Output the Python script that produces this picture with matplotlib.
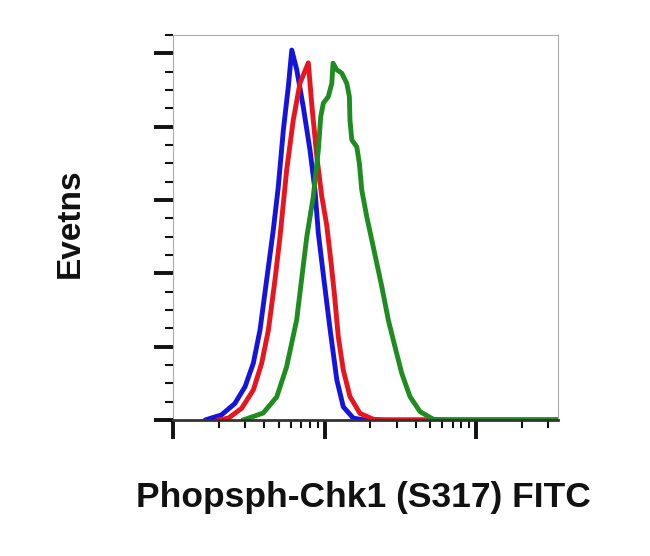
import numpy as np
import matplotlib
matplotlib.use("Agg")
import matplotlib.pyplot as plt
from matplotlib.ticker import LogLocator, MultipleLocator, NullFormatter

# FITC intensity (log axis) and % of max events
blue_x = [1.63, 2.09, 2.56, 2.99, 3.39, 3.75, 4.15, 4.59, 4.95, 5.35, 5.77, 6.08,
          6.56, 7.24, 8.02, 8.65, 9.10, 9.93, 10.86, 12.05, 13.30, 15.49, 18.49, 350.0]
blue_y = [0, 1.4, 4.5, 9.1, 15.5, 24.5, 38.2, 51.8, 63.5, 79.1, 90.9, 100.9,
          95.5, 85.4, 73.6, 62.7, 51.0, 38.0, 25.0, 11.0, 3.6, 0.5, 0, 0]

red_x = [1.98, 2.32, 2.84, 3.39, 3.85, 4.26, 4.71, 5.08, 5.62, 6.22, 6.89, 7.82,
         8.24, 8.89, 9.59, 10.35, 11.04, 11.64, 12.33, 13.30, 14.72, 17.14, 20.99,
         25.06, 350.0]
red_y = [0, 0.5, 3.2, 8.2, 15.5, 24.5, 38.2, 49.8, 68.0, 81.8, 91.9, 97.4,
         86.0, 72.0, 61.0, 53.0, 43.0, 34.0, 22.7, 13.6, 6.4, 1.8, 0.2,
         0, 0]

green_x = [2.90, 3.94, 4.84, 5.62, 6.55, 7.64, 8.43, 9.10, 9.44, 9.82, 10.59,
           11.17, 11.38, 12.05, 13.00, 14.03, 14.59, 14.72, 15.14, 16.33, 16.98,
           17.62, 19.01, 20.51, 23.88, 26.36, 29.17, 32.36, 36.64, 42.66, 52.24,
           62.37, 350.0]
green_y = [0, 1.9, 6.3, 14.5, 27.3, 50.0, 60.9, 73.6, 82.7, 86.4, 88.2,
           91.8, 97.3, 95.5, 94.6, 91.8, 88.2, 81.8, 76.4, 74.5, 70.0,
           62.7, 55.4, 49.1, 36.4, 27.3, 20.0, 12.7, 6.4, 2.3, 0.2,
           0, 0]

plt.rcParams['font.family'] = ['Liberation Sans', 'DejaVu Sans']

fig = plt.figure(figsize=(6.5, 5.56), dpi=100)
ax = fig.add_axes([173 / 650, 136 / 556, 385 / 650, 385 / 556])

for xs, ys, col in [(blue_x, blue_y, '#1414dc'),
                    (red_x, red_y, '#e8141e'),
                    (green_x, green_y, '#1e8c1e')]:
    ax.plot(xs, ys, color=col, lw=3.5, solid_joinstyle='round',
            solid_capstyle='round')

ax.set_xscale('log')
ax.set_xlim(1, 10 ** 2.541)
ax.set_ylim(0, 105)

ax.xaxis.set_major_locator(LogLocator(base=10, numticks=10))
ax.xaxis.set_minor_locator(LogLocator(base=10, subs=np.arange(2, 10), numticks=20))
ax.yaxis.set_major_locator(MultipleLocator(20))
ax.yaxis.set_minor_locator(MultipleLocator(5))
for axis in (ax.xaxis, ax.yaxis):
    axis.set_major_formatter(NullFormatter())
    axis.set_minor_formatter(NullFormatter())

ax.tick_params(which='major', length=14, width=2.8, color='#111111', direction='out')
ax.tick_params(which='minor', length=5.5, width=1.5, color='#111111', direction='out')

for side in ('top', 'right', 'left'):
    ax.spines[side].set_color('#aaaaaa')
    ax.spines[side].set_linewidth(0.8)
ax.spines['bottom'].set_color('#333333')
ax.spines['bottom'].set_linewidth(2)

fig.text(70 / 650, 1 - 223 / 556, 'Evetns', rotation=90, ha='center', va='center',
         fontsize=24, fontweight='bold', color='#111111')
fig.text(363 / 650, 1 - 497 / 556, 'Phopsph-Chk1 (S317) FITC', ha='center', va='center',
         fontsize=25.5, fontweight='bold', color='#111111')

fig.savefig('out.png', dpi=100)
